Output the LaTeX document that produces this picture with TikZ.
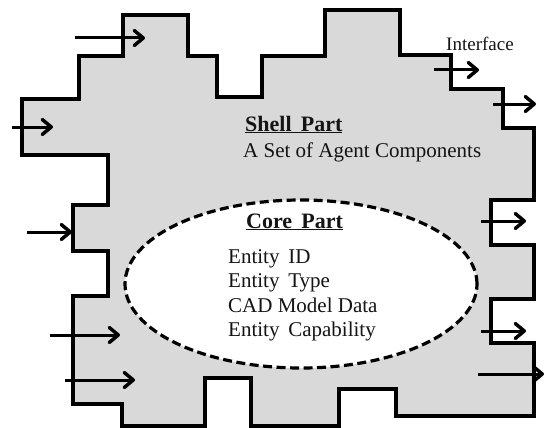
\documentclass[tikz,border=0pt]{standalone}
\usepackage{fontspec}
\setmainfont{Liberation Serif}
\usetikzlibrary{arrows.meta,shapes.geometric}
\definecolor{shellgray}{RGB}{217,217,217}
\definecolor{inkgray}{RGB}{20,20,20}
\tikzstyle{shell}=[draw=black, fill=shellgray, line width=3.5pt, line join=miter]
\tikzstyle{core}=[ellipse, draw=black, fill=white, line width=3.2pt, dash pattern=on 9pt off 4.5pt, minimum width=352pt, minimum height=168pt, inner sep=0pt]
\tikzstyle{port}=[draw=black, line width=3pt, -{Straight Barb[length=9pt,width=15pt,line width=3.5pt,round]}]
\tikzstyle{title}=[anchor=base west, inner sep=0pt, text=inkgray, font=\fontsize{22}{26}\selectfont\bfseries]
\tikzstyle{item}=[anchor=base west, inner sep=0pt, text=inkgray, font=\fontsize{21}{24}\selectfont]

\begin{document}
\begin{tikzpicture}[x=1pt, y=-1pt]
	\useasboundingbox (0,0) rectangle (546,428);
	% stepped outline of the shell
	\draw [style=shell] (123,15) -- (188,15) -- (188,56) -- (217,56) -- (217,97) -- (262,97) -- (262,56)
		-- (325,56) -- (325,10) -- (400,10) -- (400,55) -- (451,55) -- (451,89) -- (503,89)
		-- (503,128) -- (534,128) -- (534,200) -- (491,200) -- (491,245) -- (534,245) -- (534,299)
		-- (491,299) -- (491,343) -- (534,343) -- (534,416) -- (396,416) -- (396,389) -- (339,389)
		-- (339,426) -- (251,426) -- (251,378) -- (205,378) -- (205,426) -- (122,426) -- (122,404)
		-- (73,404) -- (73,296) -- (108,296) -- (108,251) -- (73,251) -- (73,205) -- (108,205)
		-- (108,155) -- (22,155) -- (22,99) -- (79,99) -- (79,56) -- (123,56) -- cycle;
	\node [style=core] (core) at (301,284) {};

	\node [style=title] (shelltitle) at (245,131) {\underline{Shell\, Part}};
	\node [style=item] (shelltext) at (243,157) {A Set of Agent Components};
	\node [style=title] (coretitle) at (246,228) {\underline{Core\, Part}};
	\node [style=item] (id) at (228,263) {Entity\, ID};
	\node [style=item] (type) at (228,287) {Entity\, Type};
	\node [style=item] (cad) at (228,312) {CAD Model Data};
	\node [style=item] (capa) at (228,336) {Entity\, Capability};
	\node [anchor=base west, inner sep=0pt, text=inkgray, font=\fontsize{19}{22}\selectfont] (iface) at (446,51) {Interface};

	% interface arrows
	\coordinate (in1) at (75,38);   \coordinate (in1e) at (145,38);
	\coordinate (in2) at (12,127);  \coordinate (in2e) at (53,127);
	\coordinate (in3) at (27,232);  \coordinate (in3e) at (72,232);
	\coordinate (in4) at (50,335);  \coordinate (in4e) at (120,335);
	\coordinate (in5) at (65,380);  \coordinate (in5e) at (135,380);
	\coordinate (out1) at (434,70);  \coordinate (out1e) at (479,70);
	\coordinate (out2) at (493,104); \coordinate (out2e) at (536,104);
	\coordinate (out3) at (481,221); \coordinate (out3e) at (526,221);
	\coordinate (out4) at (481,331); \coordinate (out4e) at (526,331);
	\coordinate (out5) at (478,374); \coordinate (out5e) at (544,374);
	\draw [style=port] (in1) to (in1e);
	\draw [style=port] (in2) to (in2e);
	\draw [style=port] (in3) to (in3e);
	\draw [style=port] (in4) to (in4e);
	\draw [style=port] (in5) to (in5e);
	\draw [style=port] (out1) to (out1e);
	\draw [style=port] (out2) to (out2e);
	\draw [style=port] (out3) to (out3e);
	\draw [style=port] (out4) to (out4e);
	\draw [style=port] (out5) to (out5e);
\end{tikzpicture}
\end{document}
